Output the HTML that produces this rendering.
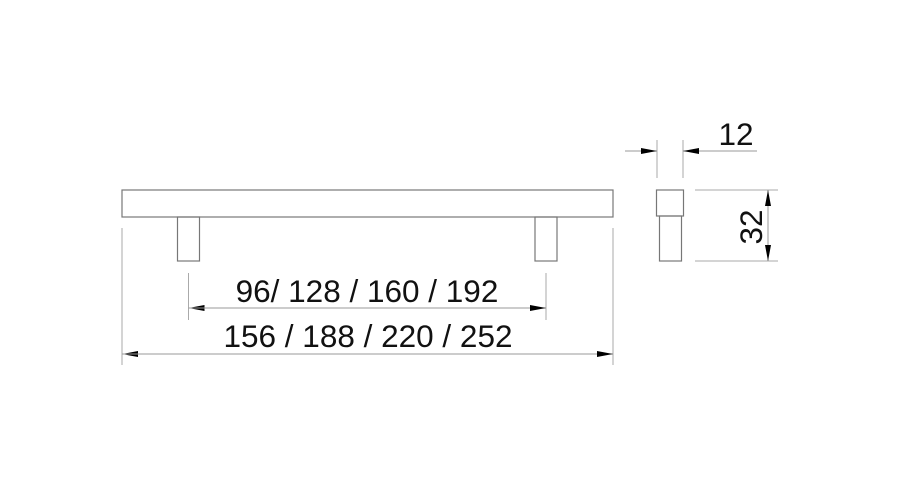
<!DOCTYPE html>
<html><head><style>html,body{margin:0;padding:0;background:#fff}svg{display:block}</style></head>
<body>
<svg width="900" height="500" viewBox="0 0 900 500" xmlns="http://www.w3.org/2000/svg">
<defs>
<marker id="a" markerWidth="16" markerHeight="6" refX="16" refY="3" orient="auto" markerUnits="userSpaceOnUse"><path d="M0,0 L16,3 L0,6 z" fill="#000"/></marker>
</defs>
<g fill="none" stroke="#777" stroke-width="1.2">
<rect x="122" y="190" width="491" height="27"/>
<rect x="177.5" y="217" width="22" height="44"/>
<rect x="535" y="217" width="22" height="44"/>
<rect x="656.5" y="190" width="27" height="26"/>
<rect x="659.5" y="216" width="22" height="45"/>
</g>
<g stroke="#aaa" stroke-width="1">
<line x1="122" y1="228" x2="122" y2="365"/>
<line x1="613" y1="228" x2="613" y2="365"/>
<line x1="188.5" y1="273" x2="188.5" y2="320"/>
<line x1="546" y1="273" x2="546" y2="320"/>
<line x1="657" y1="140" x2="657" y2="178"/>
<line x1="683" y1="140" x2="683" y2="178"/>
<line x1="695" y1="190" x2="778" y2="190"/>
<line x1="695" y1="261" x2="778" y2="261"/>
</g>
<g stroke="#999" stroke-width="1">
<line x1="546" y1="308" x2="188.5" y2="308" marker-end="url(#a)"/>
<line x1="188.5" y1="308" x2="546" y2="308" marker-end="url(#a)"/>
<line x1="613" y1="354" x2="122" y2="354" marker-end="url(#a)"/>
<line x1="122" y1="354" x2="613" y2="354" marker-end="url(#a)"/>
<line x1="625" y1="151" x2="657" y2="151" marker-end="url(#a)"/>
<line x1="757" y1="151" x2="683" y2="151" marker-end="url(#a)"/>
<line x1="768" y1="225" x2="768" y2="190" marker-end="url(#a)"/>
<line x1="768" y1="225" x2="768" y2="261" marker-end="url(#a)"/>
</g>
<g font-family="Liberation Sans, sans-serif" font-size="31.5" fill="#111">
<text x="367" y="302" text-anchor="middle">96/ 128 / 160 / 192</text>
<text x="368" y="347" text-anchor="middle">156 / 188 / 220 / 252</text>
<text x="736" y="145" text-anchor="middle">12</text>
<text transform="translate(762,227) rotate(-90)" text-anchor="middle">32</text>
</g>
</svg>
</body></html>
